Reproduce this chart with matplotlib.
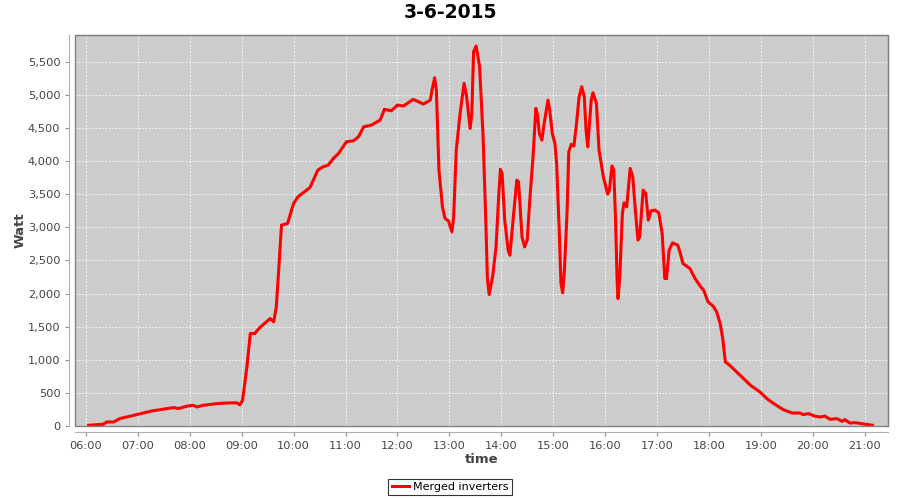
import pandas as pd
import matplotlib
matplotlib.use('Agg')
import matplotlib.pyplot as plt
import matplotlib.dates as mdates
from matplotlib.ticker import MultipleLocator, FuncFormatter

DAY = "2015-06-03"
TITLE = "3-6-2015"
SERIES_NAME = "Merged inverters"

# readings of the merged inverters (time of day, watt)
times = [
    "06:03", "06:20", "06:24", "06:32", "06:39", "06:47", "07:00", "07:06", "07:16", "07:26",
    "07:41", "07:47", "07:56", "08:04", "08:08", "08:16", "08:31", "08:43", "08:54", "08:58",
    "09:01", "09:06", "09:10", "09:15", "09:21", "09:33", "09:37", "09:40", "09:43", "09:46",
    "09:53", "10:00", "10:05", "10:19", "10:28", "10:34", "10:40", "10:46", "10:52", "11:01",
    "11:09", "11:15", "11:21", "11:30", "11:40", "11:45", "11:53", "12:00", "12:07", "12:18",
    "12:22", "12:30", "12:38", "12:40", "12:43", "12:45", "12:48", "12:52", "12:55", "12:59",
    "13:03", "13:05", "13:08", "13:12", "13:17", "13:20", "13:24", "13:26", "13:28", "13:31",
    "13:35", "13:39", "13:42", "13:44", "13:46", "13:50", "13:54", "13:57", "13:59", "14:01",
    "14:04", "14:08", "14:10", "14:14", "14:18", "14:20", "14:24", "14:27", "14:30", "14:33",
    "14:37", "14:40", "14:42", "14:44", "14:47", "14:49", "14:54", "14:56", "14:59", "15:02",
    "15:04", "15:07", "15:09", "15:11", "15:13", "15:16", "15:18", "15:21", "15:24", "15:27",
    "15:30", "15:33", "15:36", "15:38", "15:40", "15:42", "15:44", "15:46", "15:50", "15:53",
    "15:58", "16:03", "16:05", "16:08", "16:10", "16:12", "16:14", "16:15", "16:17", "16:20",
    "16:22", "16:25", "16:29", "16:32", "16:35", "16:38", "16:40", "16:44", "16:47", "16:50",
    "16:53", "16:58", "17:02", "17:06", "17:09", "17:11", "17:14", "17:18", "17:24", "17:27",
    "17:30", "17:38", "17:44", "17:50", "17:54", "17:59", "18:05", "18:09", "18:13", "18:16",
    "18:19", "18:24", "18:36", "18:48", "18:59", "19:07", "19:16", "19:26", "19:36", "19:45",
    "19:49", "19:55", "20:03", "20:09", "20:14", "20:20", "20:28", "20:34", "20:37", "20:43",
    "20:49", "20:59", "21:09",
]
watts = [
    5, 20, 55, 55, 106, 130, 171, 191, 221, 242,
    273, 258, 292, 308, 282, 308, 333, 342, 345, 315,
    383, 888, 1394, 1394, 1485, 1621, 1570, 1797, 2403, 3035,
    3060, 3364, 3464, 3606, 3868, 3918, 3944, 4045, 4121, 4297,
    4312, 4373, 4524, 4550, 4626, 4788, 4767, 4853, 4838, 4939,
    4918, 4868, 4929, 5080, 5267, 5080, 3868, 3312, 3136, 3100,
    2933, 3161, 4171, 4676, 5182, 4979, 4500, 4727, 5661, 5747,
    5433, 4373, 3161, 2227, 1985, 2252, 2706, 3464, 3879, 3818,
    3111, 2656, 2580, 3161, 3717, 3691, 2858, 2706, 2808, 3414,
    4121, 4803, 4702, 4424, 4323, 4524, 4929, 4777, 4424, 4273,
    3970, 2959, 2152, 2010, 2353, 3212, 4145, 4258, 4232, 4576,
    4979, 5131, 4979, 4474, 4221, 4576, 4929, 5040, 4879, 4171,
    3767, 3505, 3565, 3929, 3868, 3161, 2152, 1924, 2252, 3212,
    3373, 3312, 3894, 3767, 3262, 2808, 2858, 3565, 3515, 3111,
    3250, 3262, 3222, 2909, 2227, 2227, 2656, 2767, 2732, 2606,
    2455, 2379, 2227, 2111, 2050, 1873, 1808, 1721, 1545, 1318,
    964, 914, 762, 612, 509, 409, 323, 242, 191, 191,
    167, 182, 141, 130, 145, 95, 106, 65, 91, 39,
    45, 24, 5,
]

x = pd.to_datetime([DAY + " " + t for t in times])

fig = plt.figure(figsize=(9, 5), dpi=100)
ax = fig.add_axes([75 / 900, 74 / 500, 813 / 900, 391 / 500])

ax.set_facecolor('#cccccc')
ax.plot(x, watts, color='#ff0000', linewidth=2.2, marker='s', markersize=1.6,
        markeredgewidth=0, label=SERIES_NAME)

ax.set_xlim(pd.Timestamp(DAY + " 05:47:20"), pd.Timestamp(DAY + " 21:27:00"))
ax.set_ylim(-6, 5914)

ax.xaxis.set_major_locator(mdates.HourLocator())
ax.xaxis.set_major_formatter(mdates.DateFormatter('%H:%M'))
ax.yaxis.set_major_locator(MultipleLocator(500))
ax.yaxis.set_major_formatter(FuncFormatter(lambda v, p: f"{int(v):,}"))

ax.grid(True, color='white', linestyle=(0, (2, 2)), linewidth=0.6)

# plot outline plus detached axis lines, like the original
for side in ['top', 'right']:
    ax.spines[side].set_color('#808080')
for side in ['left', 'bottom']:
    ax.spines[side].set_position(('outward', 4))
    ax.spines[side].set_color('#b0b0b0')
ax.add_patch(plt.Rectangle((0, 0), 1, 1, transform=ax.transAxes, fill=False,
                           edgecolor='#808080', linewidth=1.0, clip_on=False, zorder=5))

ax.tick_params(axis='both', colors='#909090', labelcolor='#444444', labelsize=8.2,
               length=3, width=0.8, direction='out')

ax.set_xlabel('time', fontsize=9.5, fontweight='bold', color='#444444', labelpad=2)
ax.set_ylabel('Watt', fontsize=9.5, fontweight='bold', color='#444444', labelpad=1)

fig.suptitle(TITLE, x=0.5, y=0.995, fontsize=13.5, fontweight='bold')

leg = fig.legend(loc='center', bbox_to_anchor=(0.5, 0.026), fontsize=8,
                 frameon=True, fancybox=False, handlelength=1.6, handletextpad=0.3,
                 borderpad=0.3, borderaxespad=0)
leg.get_frame().set_edgecolor('black')
leg.get_frame().set_linewidth(0.8)

fig.savefig('out.png', dpi=100)
